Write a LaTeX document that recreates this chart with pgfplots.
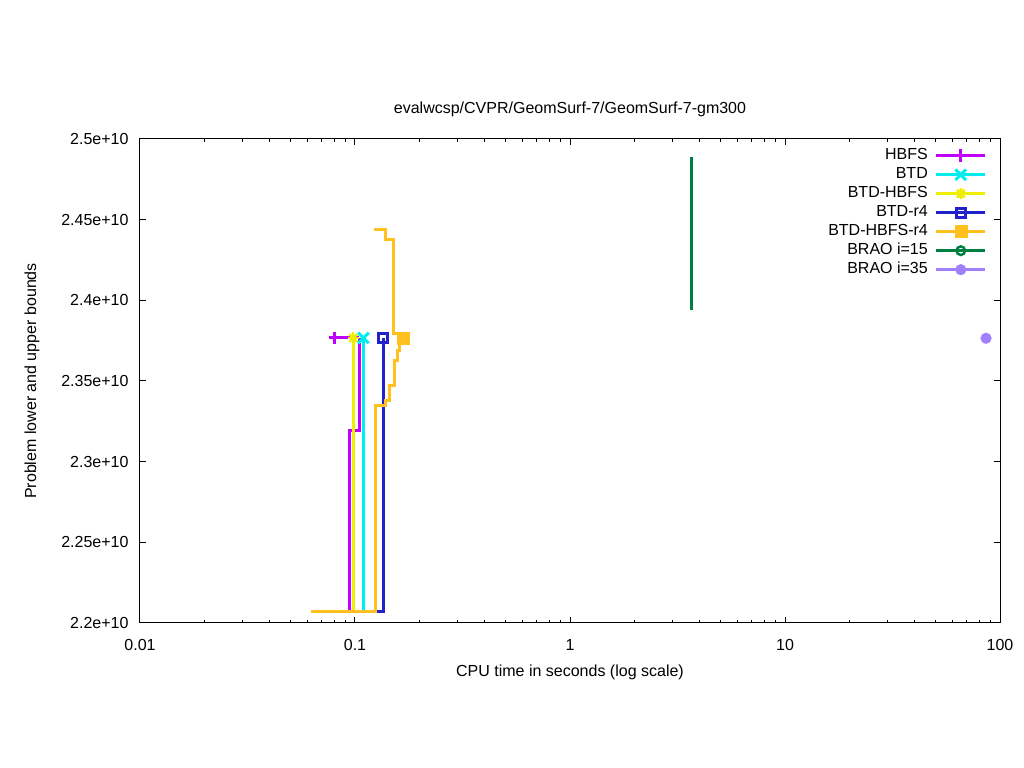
\documentclass[border=0pt]{standalone}
\usepackage{fontspec}
\setmainfont{Liberation Sans}
\usepackage{pgfplots}
\pgfplotsset{compat=1.18}
\definecolor{cH}{HTML}{C000FF}
\definecolor{cB}{HTML}{00EEEE}
\definecolor{cBH}{HTML}{EEEE00}
\definecolor{cBr}{HTML}{2222CC}
\definecolor{cBHr}{HTML}{FFC020}
\definecolor{cR15}{HTML}{008040}
\definecolor{cR35}{HTML}{A080FF}
\pgfplotsset{astlegend/.style={legend image code/.code={%
  \draw[cBH,line width=3bp] (0bp,0bp)--(49bp,0bp);
  \draw[cBH,line width=2.5bp] (19bp,0bp)--(30bp,0bp) (24.5bp,-5.5bp)--(24.5bp,5.5bp) (20.6bp,-3.9bp)--(28.4bp,3.9bp) (20.6bp,3.9bp)--(28.4bp,-3.9bp);}}}
\begin{document}
\begin{tikzpicture}[font=\fontsize{16bp}{19bp}\selectfont]
\path[use as bounding box] (0,0) rectangle (1024bp,768bp);
\begin{axis}[
  at={(140bp,145bp)}, anchor=south west,
  width=860bp, height=484bp, scale only axis,
  xmode=log, xmin=0.01, xmax=100,
  ymin=2.2e10, ymax=2.5e10,
  xtick={0.01,0.1,1,10,100},
  xticklabels={\textrm{0.01},\textrm{0.1},\textrm{1},\textrm{10},\textrm{100}},
  ytick={2.2e10,2.25e10,2.3e10,2.35e10,2.4e10,2.45e10,2.5e10},
  yticklabels={\textrm{2.2e+10},\textrm{2.25e+10},\textrm{2.3e+10},\textrm{2.35e+10},\textrm{2.4e+10},\textrm{2.45e+10},\textrm{2.5e+10}},
  scaled y ticks=false,
  major tick length=6bp, minor tick length=3bp,
  tick style={black, line width=1bp},
  axis line style={black, line width=1bp},
  xticklabel style={yshift=-13bp},
  yticklabel style={xshift=-8bp},
  title={evalwcsp/CVPR/GeomSurf-7/GeomSurf-7-gm300},
  title style={at={(axis description cs:0.5,1)}, anchor=center, yshift=24bp},
  xlabel={CPU time in seconds (log scale)},
  xlabel style={at={(axis description cs:0.5,-0.1012)}, anchor=center},
  ylabel={Problem lower and upper bounds},
  ylabel style={at={(axis description cs:-0.1256,0.5)}, anchor=center},
  legend plot pos=right,
  legend cell align=right,
  legend image code/.code={\draw[mark repeat=2,mark phase=2,#1] plot coordinates {(0bp,0bp)(24.5bp,0bp)(49bp,0bp)};},
  legend style={draw=none, fill=none, at={(axis description cs:1,1)}, anchor=north east,
    xshift=-13bp, yshift=-9bp, inner sep=0pt, column sep=7bp, row sep=4bp,
    nodes={inner sep=0pt, text height=11.5bp, text depth=3.5bp}},
]
\addlegendimage{cH, line width=3bp, mark=+, mark size=6.5bp}
\addlegendentry{HBFS}
\addlegendimage{cB, line width=3bp, mark=x, mark size=7.5bp}
\addlegendentry{BTD}
\addlegendimage{astlegend}
\addlegendentry{BTD-HBFS}
\addlegendimage{cBr, line width=3bp, mark=square, mark size=4.5bp}
\addlegendentry{BTD-r4}
\addlegendimage{cBHr, line width=3bp, mark=square*, mark size=6bp, mark options={line width=0.5bp}}
\addlegendentry{BTD-HBFS-r4}
\addlegendimage{cR15, line width=3bp, mark=o, mark size=4.3bp, mark options={line width=2.5bp}}
\addlegendentry{BRAO i=15}
\addlegendimage{cR35, line width=3bp, mark=*, mark size=5.3bp, mark options={line width=0.5bp}}
\addlegendentry{BRAO i=35}

% HBFS
\addplot[cH, line width=3bp, forget plot] coordinates {(0.0938,2.2074e10)(0.0938,2.3196e10)(0.1045,2.3196e10)(0.1045,2.3767e10)};
\addplot[cH, line width=3bp, forget plot] coordinates {(0.0807,2.3767e10)(0.1045,2.3767e10)};
\addplot[cH, only marks, mark=+, mark size=6bp, line width=3bp, forget plot] coordinates {(0.0807,2.3767e10)};
% BTD
\addplot[cB, line width=3bp, forget plot] coordinates {(0.1095,2.2074e10)(0.1095,2.3767e10)};
\addplot[cB, only marks, mark=x, mark size=7.5bp, line width=3bp, forget plot] coordinates {(0.1095,2.3767e10)};
% BTD-HBFS
\addplot[cBH, line width=3bp, forget plot] coordinates {(0.098,2.2074e10)(0.098,2.3767e10)};
\addplot[cBH, only marks, mark=+, mark size=5.5bp, line width=2.5bp, forget plot] coordinates {(0.098,2.3767e10)};
\addplot[cBH, only marks, mark=x, mark size=5.5bp, line width=2.5bp, forget plot] coordinates {(0.098,2.3767e10)};
% BTD-r4
\addplot[cBr, line width=3bp, forget plot] coordinates {(0.1253,2.2074e10)(0.1355,2.2074e10)(0.1355,2.3767e10)};
\addplot[cBr, only marks, mark=square, mark size=4.5bp, line width=3bp, forget plot] coordinates {(0.1355,2.3767e10)};
% BTD-HBFS-r4
\addplot[cBHr, line width=3bp, forget plot] coordinates {(0.0624,2.2074e10)(0.1248,2.2074e10)(0.1248,2.3351e10)(0.1389,2.3351e10)(0.1389,2.3382e10)(0.1443,2.3382e10)(0.1443,2.3475e10)(0.1527,2.3475e10)(0.1527,2.3630e10)(0.1573,2.3630e10)(0.1573,2.3692e10)(0.1610,2.3692e10)(0.1610,2.3767e10)};
\addplot[cBHr, line width=3bp, forget plot] coordinates {(0.1226,2.4436e10)(0.1389,2.4436e10)(0.1389,2.4374e10)(0.1507,2.4374e10)(0.1507,2.3795e10)(0.1580,2.3795e10)};
\addplot[cBHr, only marks, mark=square*, mark size=6bp, line width=0.5bp, forget plot] coordinates {(0.1678,2.3767e10)};
% BRAO i=15
\addplot[cR15, line width=3bp, forget plot] coordinates {(3.68,2.394e10)(3.68,2.489e10)};
% BRAO i=35
\addplot[cR35, only marks, mark=*, mark size=5.3bp, line width=0.5bp, forget plot] coordinates {(86.1,2.3765e10)};
\end{axis}
\end{tikzpicture}
\end{document}
